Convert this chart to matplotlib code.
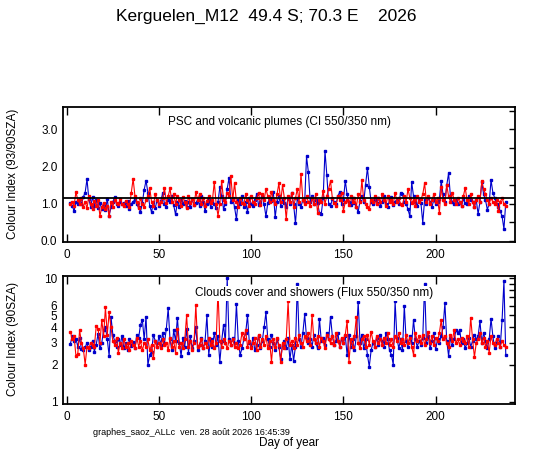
import matplotlib
matplotlib.use("Agg")
import matplotlib.pyplot as plt
from matplotlib.ticker import NullLocator

plt.rcParams['font.family'] = ['Liberation Sans', 'DejaVu Sans']

# day of year for each measurement
days = list(range(2, 239))

# PSC / volcanic plumes colour index (93/90 SZA), blue = am, red = pm
ci_blue = [1.02, 0.95, 0.80, 1.05, 0.98, 1.12, 1.00, 1.18, 1.30, 1.66,
           1.12, 0.92, 1.18, 0.95, 1.10, 0.88, 1.02, 0.85, 0.96, 0.82,
           1.14, 0.68, 0.90, 1.05, 1.18, 1.00, 0.95, 1.05, 0.98, 1.02,
           0.95, 1.08, 0.85, 1.00, 1.05, 1.12, 0.98, 0.90, 0.78, 1.02,
           1.38, 1.62, 1.30, 0.95, 0.77, 1.05, 0.88, 1.10, 0.95, 1.08,
           1.28, 1.00, 0.92, 1.10, 1.05, 1.20, 0.96, 0.71, 1.05, 0.90,
           1.10, 1.00, 1.08, 0.92, 1.05, 0.90, 1.12, 0.96, 1.02, 1.10,
           0.95, 1.20, 1.05, 0.80, 1.00, 1.10, 0.92, 1.05, 1.00, 0.88,
           1.05, 1.44, 1.20, 0.86, 1.00, 1.40, 1.70, 1.05, 1.15, 0.90,
           0.58, 1.10, 1.00, 1.20, 0.92, 1.05, 0.78, 1.15, 1.00, 0.95,
           1.10, 1.25, 0.96, 1.05, 1.20, 0.98, 0.66, 1.02, 1.15, 1.08,
           1.32, 0.63, 1.05, 1.20, 0.95, 1.10, 1.02, 0.92, 1.15, 1.00,
           1.28, 0.98, 0.47, 1.15, 1.00, 0.92, 1.10, 1.05, 2.27, 1.85,
           1.05, 1.20, 0.98, 1.10, 1.02, 0.75, 0.73, 1.15, 2.42, 1.77,
           1.00, 0.95, 1.12, 1.05, 0.98, 1.20, 1.32, 1.00, 1.10, 1.62,
           1.25, 1.05, 0.96, 1.15, 1.02, 0.90, 0.78, 1.08, 1.20, 1.05,
           1.50, 1.96, 1.46, 1.05, 0.98, 1.10, 1.02, 1.15, 0.95, 1.05,
           1.22, 1.00, 0.92, 1.10, 1.18, 0.96, 1.05, 1.12, 0.98, 1.30,
           1.25, 1.05, 1.00, 0.85, 0.66, 1.58, 1.20, 1.05, 0.95, 1.10,
           1.02, 0.49, 1.10, 0.98, 1.15, 1.05, 0.92, 1.10, 1.00, 1.05,
           1.12, 1.61, 1.25, 1.05, 1.50, 1.82, 1.20, 1.05, 0.98, 1.10,
           1.00, 1.05, 0.95, 1.12, 1.02, 0.98, 1.20, 1.10, 1.05, 0.92,
           1.10, 0.72, 1.05, 1.58, 1.25, 1.10, 0.84, 1.00, 1.64, 1.30,
           1.15, 1.00, 0.92, 0.80, 0.66, 0.32, 1.04]
ci_red = [0.98, 1.05, 0.95, 1.32, 1.10, 1.00, 1.15, 0.92, 1.05, 0.88,
          1.20, 1.00, 0.85, 1.08, 0.95, 1.10, 0.67, 0.90, 1.02, 0.85,
          0.95, 0.66, 1.05, 0.92, 1.10, 1.02, 0.98, 1.12, 1.00, 0.95,
          1.08, 1.00, 0.92, 1.30, 1.67, 1.20, 1.05, 0.88, 1.15, 1.00,
          0.92, 1.10, 1.20, 1.43, 1.05, 0.95, 1.25, 1.10, 0.98, 1.05,
          1.15, 1.43, 1.02, 1.20, 1.41, 1.05, 1.25, 1.00, 1.22, 1.10,
          0.95, 1.18, 1.05, 0.88, 1.20, 1.02, 1.12, 0.96, 1.32, 1.10,
          1.25, 1.00, 1.15, 0.95, 1.08, 1.20, 1.02, 1.10, 1.58, 1.00,
          0.68, 1.00, 1.62, 1.10, 1.05, 1.30, 1.20, 1.74, 1.10, 1.56,
          1.05, 0.92, 1.15, 1.02, 0.98, 1.25, 1.10, 0.95, 1.20, 1.05,
          1.00, 1.15, 1.30, 0.96, 1.25, 1.10, 1.40, 1.20, 1.05, 1.32,
          1.10, 0.98, 1.25, 1.55, 1.05, 1.50, 1.15, 0.58, 1.20, 1.05,
          1.30, 0.92, 1.15, 1.40, 1.05, 1.80, 1.10, 0.98, 1.20, 1.05,
          0.95, 1.15, 1.00, 1.25, 0.75, 1.10, 1.05, 1.35, 1.00, 1.20,
          1.40, 1.61, 1.15, 1.02, 0.95, 1.20, 1.10, 1.30, 0.80, 1.05,
          1.10, 0.96, 1.20, 1.05, 1.15, 0.92, 1.25, 1.05, 1.63, 1.10,
          1.00, 0.92, 0.86, 1.10, 1.05, 1.20, 0.98, 1.15, 1.05, 1.25,
          1.10, 0.95, 1.20, 1.05, 1.12, 0.98, 1.30, 1.05, 1.15, 1.00,
          0.96, 1.20, 1.05, 1.40, 1.15, 1.02, 1.10, 0.95, 1.20, 1.05,
          1.12, 1.25, 1.55, 1.05, 1.20, 0.98, 1.10, 1.25, 1.05, 1.15,
          0.75, 1.45, 1.10, 1.00, 1.50, 1.20, 1.05, 1.30, 1.10, 1.00,
          1.15, 1.05, 0.95, 1.20, 1.43, 1.10, 1.00, 1.25, 1.05, 0.92,
          1.10, 1.20, 1.05, 1.61, 1.40, 1.25, 1.10, 1.00, 1.15, 1.05,
          0.98, 1.10, 0.80, 1.05, 1.15, 1.00, 0.95]
ci_ref = 1.15   # reference level drawn as black line

# clouds / showers flux ratio (90 SZA)
flux_blue = [2.95, 3.40, 3.10, 3.25, 2.80, 3.30, 2.65, 2.60, 2.75, 3.00,
             2.60, 2.75, 3.10, 2.55, 2.90, 3.55, 2.70, 3.00, 3.80, 4.00,
             3.20, 2.35, 4.90, 3.50, 3.10, 2.80, 3.25, 2.90, 3.40, 2.70,
             3.00, 2.60, 3.20, 2.85, 3.05, 2.70, 3.50, 3.30, 4.20, 4.60,
             3.20, 4.90, 1.98, 2.40, 2.55, 3.50, 3.10, 2.80, 3.40, 2.90,
             3.60, 3.00, 3.90, 5.70, 3.20, 2.60, 3.80, 3.10, 4.80, 3.00,
             2.35, 3.30, 2.80, 3.90, 2.50, 3.40, 2.70, 3.10, 4.00, 2.60,
             2.90, 3.30, 2.70, 3.10, 5.00, 2.40, 3.20, 2.80, 3.60, 2.90,
             3.40, 2.10, 3.10, 4.20, 3.00, 10.0, 3.20, 2.90, 3.30, 3.00,
             6.20, 3.10, 2.40, 2.70, 3.20, 3.60, 5.00, 3.00, 2.80, 3.30,
             2.60, 2.90, 3.40, 2.70, 3.10, 4.00, 5.30, 3.20, 2.80, 3.50,
             3.00, 2.60, 3.20, 2.80, 2.20, 2.90, 3.10, 2.70, 3.30, 2.20,
             2.90, 2.15, 2.80, 9.00, 3.20, 2.80, 3.60, 5.10, 3.30, 3.00,
             3.20, 2.80, 3.50, 3.00, 2.70, 4.70, 3.10, 3.30, 2.90, 3.60,
             3.20, 4.90, 3.40, 2.90, 3.10, 3.60, 2.80, 3.20, 3.00, 3.40,
             2.40, 3.50, 2.80, 3.20, 2.60, 3.40, 6.40, 3.00, 3.50, 2.70,
             3.20, 2.40, 1.92, 2.60, 3.00, 2.80, 3.30, 2.90, 3.50, 3.10,
             2.80, 3.60, 3.20, 2.60, 2.40, 2.00, 6.50, 3.30, 2.70, 3.20,
             2.60, 6.00, 3.10, 2.80, 3.40, 3.00, 4.60, 3.20, 2.80, 3.10,
             2.90, 3.30, 9.00, 3.00, 3.40, 2.70, 3.10, 3.60, 2.65, 3.20,
             3.00, 3.40, 4.00, 6.30, 3.10, 2.35, 3.30, 2.90, 3.20, 3.80,
             3.60, 3.80, 3.00, 3.20, 2.70, 3.00, 3.30, 2.80, 3.10, 3.50,
             3.20, 3.40, 4.50, 3.00, 3.60, 3.10, 2.70, 3.20, 4.70, 3.40,
             2.70, 3.00, 3.40, 2.80, 4.60, 9.50, 2.40]
flux_red = [3.70, 3.20, 3.40, 2.35, 2.45, 3.80, 3.00, 2.70, 2.00, 2.80,
            2.70, 3.00, 2.90, 2.80, 4.10, 3.90, 3.00, 4.60, 3.40, 5.80,
            3.50, 5.30, 4.00, 3.10, 2.90, 3.30, 2.50, 3.00, 2.70, 3.20,
            2.80, 3.00, 2.60, 3.10, 2.90, 2.70, 3.30, 2.80, 3.10, 2.60,
            3.00, 2.80, 3.20, 2.60, 2.90, 2.25, 3.10, 2.80, 3.00, 2.70,
            3.20, 2.90, 3.00, 2.60, 3.30, 2.80, 3.10, 2.50, 3.90, 2.80,
            3.00, 2.70, 3.20, 5.00, 2.80, 3.10, 2.60, 3.00, 6.10, 2.80,
            2.90, 3.20, 2.70, 3.00, 2.80, 3.30, 2.90, 3.10, 2.70, 3.00,
            8.00, 3.10, 2.80, 3.20, 3.00, 2.70, 3.10, 2.90, 3.20, 2.80,
            3.00, 2.70, 2.90, 3.60, 3.20, 3.80, 2.80, 3.10, 2.70, 3.00,
            3.30, 2.60, 3.50, 2.80, 3.20, 2.90, 3.40, 2.70, 3.10, 2.10,
            3.20, 2.80, 3.30, 2.90, 2.10, 3.00, 2.70, 3.20, 6.50, 2.90,
            3.10, 2.70, 3.30, 2.90, 3.50, 3.00, 2.80, 3.40, 3.10, 3.60,
            2.90, 5.00, 3.20, 3.00, 3.40, 2.80, 3.30, 3.10, 2.70, 3.50,
            3.20, 3.00, 3.40, 2.90, 3.60, 3.10, 2.80, 3.30, 3.00, 3.50,
            4.50, 2.10, 3.20, 2.80, 3.40, 4.90, 3.00, 2.70, 3.20, 3.40,
            2.80, 3.50, 2.90, 3.70, 3.10, 2.80, 3.40, 3.00, 3.20, 2.90,
            3.30, 3.00, 3.60, 2.90, 3.20, 2.80, 3.40, 3.10, 3.60, 3.00,
            3.20, 2.90, 3.50, 3.00, 3.30, 2.80, 2.40, 3.60, 3.10, 3.40,
            3.00, 3.50, 2.90, 3.20, 3.70, 3.00, 3.40, 2.90, 3.30, 3.10,
            3.60, 4.60, 3.20, 3.40, 3.00, 2.75, 3.50, 3.10, 3.80, 3.00,
            3.20, 2.90, 3.30, 3.10, 3.00, 3.40, 2.80, 4.80, 3.20, 2.30,
            3.00, 3.20, 3.60, 3.00, 3.30, 2.80, 3.10, 2.50, 3.40, 3.00,
            2.90, 3.20, 3.00, 2.80, 3.10, 2.90, 2.80]

ci_ticks = [0.0, 0.5, 1.0, 1.5, 2.0, 2.5, 3.0, 3.5]
ci_labels = ['0.0', '', '1.0', '', '2.0', '', '3.0', '']
flux_ticks = [1, 2, 3, 4, 5, 6, 7, 8, 9, 10]
flux_labels = ['1', '2', '3', '4', '5', '6', '', '', '', '10']
day_ticks = [0, 50, 100, 150, 200]

BLUE = '#0000CC'
RED = '#FF0000'

fig = plt.figure(figsize=(5.47, 4.55), dpi=100)
ax1 = fig.add_axes([0.1152, 0.4681, 0.8263, 0.2967])
ax2 = fig.add_axes([0.1152, 0.1121, 0.8263, 0.2813])

# top panel
ax1.plot(days, ci_blue, '-s', color=BLUE, lw=0.8, ms=1.9, zorder=2)
ax1.plot(days, ci_red, '-s', color=RED, lw=0.8, ms=1.9, zorder=3)
ax1.axhline(ci_ref, color='black', lw=1.3, zorder=4)
ax1.set_ylim(-0.03, 3.6)
ax1.set_yticks(ci_ticks)
ax1.set_yticklabels(ci_labels)
ax1.text(0.48, 0.89, 'PSC and volcanic plumes (CI 550/350 nm)', transform=ax1.transAxes,
         ha='center', va='center', fontsize=8.5, zorder=5)

# bottom panel, log scale
ax2.plot(days, flux_blue, '-s', color=BLUE, lw=0.8, ms=1.9, zorder=2)
ax2.plot(days, flux_red, '-s', color=RED, lw=0.8, ms=1.9, zorder=3)
ax2.set_yscale('log')
ax2.set_ylim(0.958, 10.44)
ax2.set_yticks(flux_ticks)
ax2.set_yticklabels(flux_labels)
ax2.yaxis.set_minor_locator(NullLocator())
for lab in ax2.get_yticklabels():
    if lab.get_text() not in ('1', '10'):
        lab.set_fontsize(5)
ax2.text(0.555, 0.865, 'Clouds cover and showers (Flux 550/350 nm)', transform=ax2.transAxes,
         ha='center', va='center', fontsize=8.5, zorder=5,
         bbox=dict(facecolor='white', edgecolor='none', pad=1.0))

for ax in (ax1, ax2):
    ax.set_xlim(-2, 243)
    ax.set_xticks(day_ticks)
    ax.tick_params(axis='x', direction='in', top=True, bottom=True, length=5.5, width=1.0,
                   labelsize=8.5, pad=5)
    ax.tick_params(axis='y', direction='in', left=False, right=True, length=4, width=1.0,
                   labelsize=8.5, pad=4)
    for sp in ax.spines.values():
        sp.set_linewidth(1.3)

fig.text(13 / 547, 1 - 174 / 455, 'Colour Index (93/90SZA)', rotation=90,
         ha='center', va='center', fontsize=8.5)
fig.text(13 / 547, 1 - 339 / 455, 'Colour Index (90SZA)', rotation=90,
         ha='center', va='center', fontsize=8.5)

fig.text(0.486, 0.963, 'Kerguelen_M12  49.4 S; 70.3 E    2026', ha='center', va='center', fontsize=12.5)
fig.text(0.1706, 0.0484, 'graphes_saoz_ALLc  ven. 28 août 2026 16:45:39', ha='left', va='center',
         fontsize=6.5)
fig.text(0.529, 0.027, 'Day of year', ha='center', va='center', fontsize=8.5)

fig.savefig('out.png', dpi=100)
